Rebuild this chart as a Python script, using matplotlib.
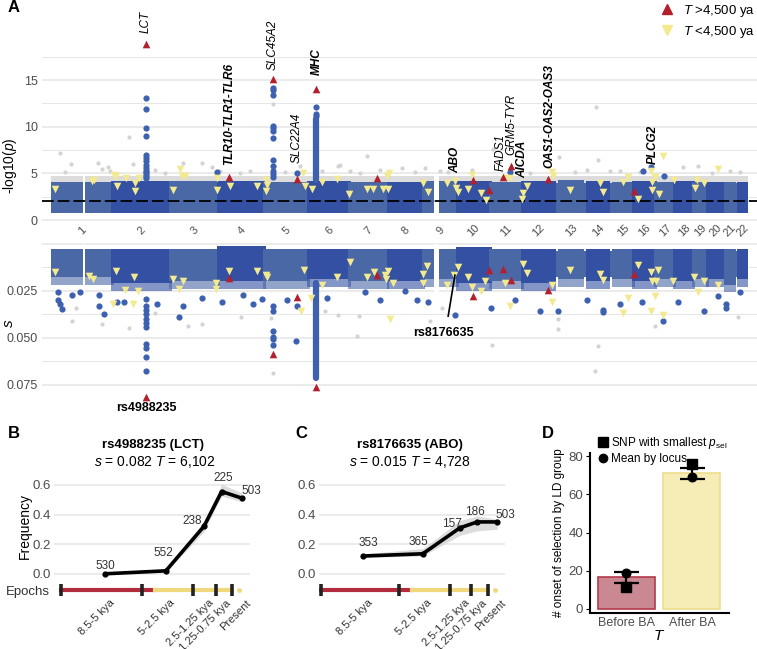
import numpy as np
import matplotlib
matplotlib.use("Agg")
import matplotlib.pyplot as plt
from matplotlib.lines import Line2D
from matplotlib.transforms import blended_transform_factory

plt.rcParams['font.family'] = ['Liberation Sans', 'DejaVu Sans']
plt.rcParams['mathtext.fontset'] = 'custom'
plt.rcParams['mathtext.rm'] = 'Liberation Sans'
plt.rcParams['mathtext.it'] = 'Liberation Sans:italic'
plt.rcParams['mathtext.bf'] = 'Liberation Sans:bold'

# ── data: genome layout (Mb) ─────────────────────────────────────────────────
CHROM_LEN = [249.25, 243.2, 198.0, 191.15, 180.9, 171.1, 159.1, 146.35, 141.2, 135.5, 135.0,
             133.85, 115.15, 107.35, 102.5, 90.35, 81.2, 78.0, 59.1, 63.0, 48.1, 51.3]
SEG_CHROM = [1, 1, 2, 3, 4, 5, 6, 7, 8, 9, 9, 10, 11, 12, 13, 14, 15, 16, 17, 18, 19, 20, 21, 22]
SEG_START = [0.8, 144, 0.1, 0.1, 0.1, 0.1, 0.2, 0.1, 0.2, 0.2, 70, 0.1, 0.2, 0.2, 19.0, 20.0,
             20.0, 0.1, 0.1, 0.1, 0.3, 0.1, 10.0, 16.0]
SEG_END = [121, 249, 243, 198, 191, 180.8, 171, 159, 146, 39, 141, 135.4, 134.9, 133.8, 115,
           107.2, 102.4, 90.2, 81.1, 78, 59, 62.9, 48, 51.2]
# regions without SNPs (chromosome, start, end)
GAP_CHROM = [1, 9]
GAP_START = [121, 39]
GAP_END = [144, 70]

# dense background of SNPs per chromosome
BLOB_TOP_P = [4.1, 4.2, 4.2, 4.2, 4.1, 4.2, 4.1, 4.1, 4.2, 4.2, 4.1, 4.2, 4.3, 4.2, 4.1,
              4.2, 4.1, 4.2, 4.1, 4.1, 4.1, 4.1]
BLOB_BOT_P = 0.75
BLOB_TOP_S = [0.003, 0.003, 0.003, 0.0015, 0.003, 0.003, 0.003, 0.003, 0.003, 0.002, 0.003,
              0.003, 0.003, 0.003, 0.003, 0.003, 0.003, 0.003, 0.003, 0.003, 0.003, 0.003]
BLOB_CORE_S = [0.017, 0.021, 0.020, 0.020, 0.020, 0.019, 0.020, 0.020, 0.019, 0.021, 0.020,
               0.021, 0.019, 0.020, 0.019, 0.020, 0.019, 0.020, 0.019, 0.019, 0.022, 0.019]
BLOB_EDGE_S = [0.022, 0.025, 0.024, 0.024, 0.024, 0.023, 0.024, 0.024, 0.023, 0.025, 0.024,
               0.025, 0.023, 0.024, 0.023, 0.024, 0.023, 0.024, 0.023, 0.023, 0.026, 0.023]

# selected SNPs, T > 4,500 ya (position Mb, -log10 p, s)
OLD_POS = [390, 732, 916, 1016, 1095, 1347, 1743, 1812, 1870, 1901, 2056, 2413]
OLD_P = [18.9, 4.6, 15.1, 4.4, 14.0, 4.5, 4.3, 3.2, 4.6, 5.8, 4.4, 3.1]
OLD_S = [0.0816, 0.0184, 0.0588, 0.0285, 0.0763, 0.0168, 0.0279, 0.0141, 0.0136, 0.0194,
         0.0247, 0.0162]

# selected SNPs, T < 4,500 ya
NEW_POS_P = [12, 166, 174, 257, 265, 269, 307, 344, 344, 361, 502, 531, 539, 551, 684, 684, 738,
             850, 887, 891, 887, 1041, 1049, 1078, 1119, 1182, 1231, 1306, 1331, 1372, 1393,
             1397, 1389, 1538, 1559, 1638, 1671, 1675, 1683, 1725, 1741, 1779, 1799, 1878, 1899,
             1969, 1953, 1949, 2073, 2077, 2148, 2272, 2284, 2367, 2388, 2430, 2483, 2488, 2500,
             2488, 2517, 2533, 2579, 2674, 2666, 2703, 2761]
NEW_P = [3.3, 4.2, 4.3, 4.8, 4.7, 3.6, 4.5, 4.0, 3.1, 4.5, 3.2, 5.5, 4.7, 4.7, 4.5, 3.2, 3.6,
         3.6, 4.3, 3.8, 3.1, 5.0, 3.6, 3.3, 4.1, 4.4, 2.8, 3.3, 3.3, 3.3, 3.3, 5.0, 4.7, 4.0,
         3.0, 4.0, 4.2, 3.4, 3.0, 3.3, 4.8, 2.9, 2.1, 4.5, 4.5, 3.6, 2.9, 2.3, 5.1, 4.7, 3.2,
         4.0, 3.0, 4.1, 4.6, 2.3, 5.3, 4.1, 4.6, 3.2, 2.8, 6.9, 4.3, 4.3, 3.4, 4.0, 5.5]
NEW_POS_S = [12, 153, 170, 265, 340, 357, 303, 253, 336, 502, 543, 527, 680, 680, 734, 850, 887,
             891, 1045, 1032, 1119, 1182, 1236, 1074, 1306, 1335, 1381, 1393, 1385, 1414, 1401,
             1555, 1538, 1538, 1683, 1667, 1638, 1725, 1741, 1779, 1795, 1878, 1899, 1953, 1969,
             2073, 2073, 2148, 2272, 2284, 2430, 2483, 2512, 2488, 2504, 2575, 2662, 2703, 2761,
             2388, 2367, 2483, 2533, 2500, 2678]
NEW_S = [0.015, 0.017, 0.0187, 0.0145, 0.018, 0.025, 0.0245, 0.032, 0.032, 0.0187, 0.020,
         0.024, 0.021, 0.024, 0.0145, 0.0145, 0.0166, 0.018, 0.014, 0.036, 0.022, 0.018, 0.010,
         0.029, 0.018, 0.015, 0.0165, 0.0145, 0.019, 0.021, 0.040, 0.012, 0.016, 0.021, 0.0124,
         0.0166, 0.022, 0.0176, 0.023, 0.025, 0.0197, 0.021, 0.033, 0.0108, 0.0155, 0.022,
         0.031, 0.014, 0.016, 0.0195, 0.0113, 0.015, 0.014, 0.0197, 0.0197, 0.020, 0.018,
         0.0197, 0.022, 0.029, 0.037, 0.036, 0.038, 0.028, 0.0255]

# other SNPs above the threshold (grey) and significant loci (blue)
GREY_POS_P = [33, 79, 54, 191, 207, 232, 240, 319, 336, 386, 427, 469, 543, 622, 663, 697, 779,
              821, 916, 966, 1028, 1186, 1194, 1236, 1277, 1306, 1360, 1451, 1505, 1546, 1609,
              1642, 1741, 1828, 1853, 1982, 2102, 2168, 2218, 2255, 2264, 2313, 2438, 2616, 2678,
              2736, 2811, 2852, 1120, 2355]
GREY_P = [7.2, 6.0, 5.1, 6.1, 5.5, 5.7, 5.2, 8.9, 6.0, 5.7, 5.4, 5.0, 6.1, 6.1, 5.7, 5.3, 5.0,
          5.2, 12.4, 5.1, 5.8, 5.8, 5.9, 5.2, 5.0, 6.9, 5.4, 5.6, 5.1, 5.6, 5.3, 5.1, 5.4, 7.6,
          6.2, 5.0, 6.7, 5.1, 5.4, 12.1, 6.4, 5.2, 5.1, 5.7, 5.8, 5.0, 5.2, 5.1, 5.3, 5.2]
GREY_POS_S = [83, 100, 207, 319, 427, 564, 622, 784, 908, 916, 1132, 1186, 1265, 1273, 1567,
              1824, 2098, 2264, 2251, 2500, 2844, 1617, 2098]
GREY_S = [0.041, 0.0345, 0.043, 0.045, 0.037, 0.044, 0.043, 0.039, 0.0397, 0.069, 0.036, 0.038,
          0.049, 0.0387, 0.041, 0.054, 0.0455, 0.0545, 0.0676, 0.044, 0.039, 0.0345, 0.040]

BLUE_POS_P = [390] * 14 + [916] * 12 + [1095] * 3 + [684, 1016, 1899, 2483, 2537, 2450]
BLUE_P = [13.1, 11.9, 9.9, 9.0, 7.0, 6.6, 6.3, 5.9, 5.6, 5.3, 5.1, 4.9, 4.7, 4.5,
          14.1, 13.9, 13.4, 10.1, 9.9, 9.5, 8.8, 6.4, 5.8, 5.2, 4.9, 4.6,
          12.1, 11.4, 11.1,
          5.1, 5.0, 5.1, 5.7, 4.7, 5.2]
BLUE_POS_S = [390] * 11 + [916] * 6 + [
    25, 25, 33, 41, 83, 116, 195, 195, 216, 269, 299, 435, 527, 543, 622, 705, 792, 833, 871,
    974, 1012, 1016, 1140, 1298, 1360, 1464, 1513, 1559, 1671, 1820, 1920, 2023, 2098, 2218,
    2284, 2284, 2355, 2446, 2533, 2595, 2703, 2761, 2794, 2794, 2852]
BLUE_S = [0.0295, 0.033, 0.0355, 0.0376, 0.040, 0.042, 0.0445, 0.0534, 0.0558, 0.0603, 0.0676,
          0.0334, 0.036, 0.0466, 0.0497, 0.051, 0.054,
          0.0255, 0.030, 0.032, 0.035, 0.0276, 0.0256, 0.0276, 0.033, 0.0376, 0.031, 0.031,
          0.032, 0.039, 0.033, 0.029, 0.031, 0.0276, 0.032, 0.0297, 0.030, 0.052, 0.033,
          0.0287, 0.026, 0.030, 0.025, 0.030, 0.031, 0.038, 0.0345, 0.030, 0.036, 0.036, 0.030,
          0.0355, 0.0366, 0.0323, 0.031, 0.0413, 0.031, 0.036, 0.028, 0.032, 0.0345, 0.0255]
# MHC: continuous column of significant SNPs (min, max)
MHC_POS = 1095
MHC_P_RANGE = (4.3, 10.8)
MHC_S_RANGE = (0.021, 0.0715)

P_THRESHOLD = 2.0

GENES = ['LCT', 'TLR10-TLR1-TLR6', 'SLC45A2', 'SLC22A4', 'MHC', 'ABO', 'FADS1', 'GRM5-TYR',
         'AICDA', 'OAS1-OAS2-OAS3', 'PLCG2']
GENE_POS = [388, 735, 916, 1015, 1097, 1671, 1860, 1906, 1947, 2062, 2492]
GENE_Y = [20.0, 5.9, 16.1, 6.1, 15.5, 5.0, 5.3, 7.0, 4.5, 5.6, 6.0]
GENE_BOLD = [False, True, False, False, True, True, False, False, True, True, True]

# ── data: panels B, C ────────────────────────────────────────────────────────
EPOCH_MID = [6750, 3750, 1875, 1000, 0]
EPOCH_LABELS = ['8.5-5 kya', '5-2.5 kya', '2.5-1.25 kya', '1.25-0.75 kya', 'Present']
EPOCH_EDGES = [8900, 4950, 2400, 1300, 480]
BA_SPLIT = 4300
PRESENT_DOT = 130

LCT_FREQ = [0.0, 0.02, 0.32, 0.555, 0.51]
LCT_LO = [0.0, 0.01, 0.285, 0.525, 0.485]
LCT_HI = [0.006, 0.032, 0.355, 0.605, 0.545]
LCT_N = [530, 552, 238, 225, 503]

ABO_FREQ = [0.12, 0.135, 0.31, 0.35, 0.35]
ABO_LO = [0.11, 0.12, 0.26, 0.29, 0.30]
ABO_HI = [0.135, 0.17, 0.36, 0.39, 0.37]
ABO_N = [353, 365, 157, 186, 503]

# ── data: panel D ────────────────────────────────────────────────────────────
GROUPS = ['Before BA', 'After BA']
BAR_MEAN = [16.5, 71.0]
BAR_ERR = [2.9, 3.1]
SNP_SMALLEST = [11.5, 76.0]
LOCUS_MEAN = [18.8, 69.1]

# ── style ────────────────────────────────────────────────────────────────────
W, H = 757, 649
LIGHT = '#4a67a6'
DARK = '#3350a2'
DOT_BLUE = '#3d60b0'
GREY = '#d3d3d3'
RED = '#b3202d'
YEL = '#f3e98f'
TXT = '#4d4d4d'
GRID = '#e6e6e6'

fig = plt.figure(figsize=(W / 100, H / 100), dpi=100)


def add_ax(l, t, r, b):
    return fig.add_axes([l / W, 1 - b / H, (r - l) / W, (b - t) / H])


def ftext(x, y, s, **kw):
    fig.text(x / W, 1 - y / H, s, **kw)


cum = np.concatenate([[0], np.cumsum(CHROM_LEN)])
PAD = 6

# ── panel A ──────────────────────────────────────────────────────────────────
axp = add_ax(42, 10, 757, 222)
axs = add_ax(42, 240, 757, 415)
for ax in (axp, axs):
    ax.set_xlim(-41.5, 2922)
    for sp in ax.spines.values():
        sp.set_visible(False)
    ax.set_xticks([])
    ax.tick_params(axis='y', length=0, labelsize=9, labelcolor=TXT, pad=3)

axp.set_ylim(-0.21, 22.5)
for v in np.arange(0, 18, 2.5):
    axp.axhline(v, color=GRID, lw=1.1 if v % 5 == 0 else 0.7, zorder=0)
axp.set_yticks([0, 5, 10, 15])

axs.set_ylim(0.0912, -0.0019)
for v in np.arange(0, 0.08, 0.0125):
    axs.axhline(v, color=GRID, lw=1.1 if round(v / 0.0125) % 2 == 0 else 0.7, zorder=0)
axs.set_yticks([0.025, 0.05, 0.075])
axs.set_yticklabels(['0.025', '0.050', '0.075'])

# dense SNP background: one continuous underlay, chromosome blocks on top
seg_x, seg_w, seg_col, seg_i = [], [], [], []
seg_mid = {}
for c, s0, s1 in zip(SEG_CHROM, SEG_START, SEG_END):
    g0 = cum[c - 1] + s0 - PAD
    g1 = cum[c - 1] + s1 + PAD
    seg_x.append(g0)
    seg_w.append(g1 - g0)
    seg_col.append(LIGHT if c % 2 else DARK)
    seg_i.append(c - 1)
    lo, hi = seg_mid.get(c, (cum[c - 1] + s0, cum[c - 1] + s1))
    seg_mid[c] = (min(lo, cum[c - 1] + s0), max(hi, cum[c - 1] + s1))

g_start = seg_x[0]
g_width = seg_x[-1] + seg_w[-1] - g_start
gap_x = [cum[c - 1] + a + PAD for c, a in zip(GAP_CHROM, GAP_START)]
gap_w = [b - a - 2 * PAD for a, b in zip(GAP_START, GAP_END)]

top_p = [BLOB_TOP_P[i] for i in seg_i]
top_s = [BLOB_TOP_S[i] for i in seg_i]
core_s = [BLOB_CORE_S[i] for i in seg_i]
edge_s = [BLOB_EDGE_S[i] for i in seg_i]
bkw = dict(width=seg_w, align='edge', linewidth=0)

# top panel
axp.bar(g_start, 0.75, width=g_width, bottom=3.95, align='edge', color='#dcdcdc', lw=0,
        zorder=1)
axp.bar(g_start, 3.25, width=g_width, bottom=BLOB_BOT_P, align='edge', color=LIGHT, lw=0,
        zorder=1.9)
axp.bar(seg_x, [t - BLOB_BOT_P for t in top_p], bottom=BLOB_BOT_P, color=seg_col,
        zorder=2, **bkw)
axp.bar(gap_x, 4.6, width=gap_w, bottom=0.2, align='edge', color='white', lw=0, zorder=2.1)
# bottom panel
axs.bar(g_start, 0.014, width=g_width, bottom=0.004, align='edge', color=LIGHT, lw=0,
        zorder=1.9)
axs.bar(seg_x, [b - t for t, b in zip(top_s, core_s)], bottom=top_s, color=seg_col,
        zorder=2, **bkw)
axs.bar(seg_x, [e - b for b, e in zip(core_s, edge_s)], bottom=core_s, color=seg_col,
        alpha=0.6, zorder=1.8, **bkw)
axs.bar(gap_x, 0.027, width=gap_w, bottom=0.0, align='edge', color='white', lw=0, zorder=2.1)

axp.axhline(P_THRESHOLD, color='black', lw=1.3, ls=(0, (6.5, 2.2)), zorder=3)

# points
axp.scatter(GREY_POS_P, GREY_P, s=9, color=GREY, lw=0, zorder=1.5)
axs.scatter(GREY_POS_S, GREY_S, s=9, color=GREY, lw=0, zorder=1.5)
axp.scatter(BLUE_POS_P, BLUE_P, s=20, color=DOT_BLUE, lw=0, zorder=3)
axs.scatter(BLUE_POS_S, BLUE_S, s=20, color=DOT_BLUE, lw=0, zorder=3)
axp.plot([MHC_POS, MHC_POS], MHC_P_RANGE, color=DOT_BLUE, lw=4.5, solid_capstyle='round',
         zorder=3)
axs.plot([MHC_POS, MHC_POS], MHC_S_RANGE, color=DOT_BLUE, lw=4.5, solid_capstyle='round',
         zorder=3)
axp.scatter(NEW_POS_P, NEW_P, marker='v', s=30, color=YEL, lw=0, zorder=4)
axs.scatter(NEW_POS_S, NEW_S, marker='v', s=30, color=YEL, lw=0, zorder=4)
axp.scatter(OLD_POS, OLD_P, marker='^', s=30, color=RED, lw=0, zorder=5)
axs.scatter(OLD_POS, OLD_S, marker='^', s=30, color=RED, lw=0, zorder=5)

# gene labels
for g, x, y, b in zip(GENES, GENE_POS, GENE_Y, GENE_BOLD):
    axp.text(x, y, g, rotation=90, ha='center', va='bottom', fontsize=8.5,
             fontstyle='italic', fontweight='bold' if b else 'normal', zorder=6)

# chromosome labels
tr = blended_transform_factory(axp.transData, axp.transAxes)
for c in range(1, 23):
    lo, hi = seg_mid[c]
    axp.text((lo + hi) / 2, -0.04, str(c), transform=tr, rotation=45, ha='center',
             va='center', fontsize=8, color=TXT)

# annotations on s panel
axs.text(OLD_POS[0], 0.0875, 'rs4988235', ha='center', va='center', fontsize=9,
         fontweight='bold')
axs.plot([1670, 1642], [0.0168, 0.0386], color='black', lw=1.2, zorder=6)
axs.text(1624, 0.0478, 'rs8176635', ha='center', va='center', fontsize=9, fontweight='bold')

handles = [Line2D([], [], marker='^', color=RED, ls='none', ms=7),
           Line2D([], [], marker='v', color=YEL, ls='none', ms=7)]
fig.legend(handles, ['$T$ >4,500 ya', '$T$ <4,500 ya'], loc='upper right',
           bbox_to_anchor=(755 / W, 1 - 3 / H), frameon=False, fontsize=9.5,
           handletextpad=0.6, labelspacing=0.35, borderpad=0, borderaxespad=0,
           handlelength=1.2)

ftext(10, 166, '-log10($p$)', rotation=90, ha='center', va='center', fontsize=10)
ftext(9, 323, '$s$', rotation=90, ha='center', va='center', fontsize=11)


# ── panels B, C ──────────────────────────────────────────────────────────────
def freq_panel(ax, freq, lo, hi, n, offs, xlim):
    ax.set_xlim(*xlim)
    ax.set_ylim(-0.17, 0.68)
    for sp in ax.spines.values():
        sp.set_visible(False)
    for v in [0, 0.2, 0.4, 0.6]:
        ax.axhline(v, color=GRID, lw=1.1, zorder=0)
    ax.fill_between(EPOCH_MID, lo, hi, color='#d4d4d4', alpha=0.8, lw=0, zorder=1)
    ax.plot(EPOCH_MID, freq, color='black', lw=2.6, solid_capstyle='round',
            solid_joinstyle='round', zorder=3)
    ax.scatter(EPOCH_MID, freq, s=12, color='black', zorder=3)
    for x, y, t, (dx, dy) in zip(EPOCH_MID, freq, n, offs):
        ax.annotate(str(t), (x, y), xytext=(dx, dy), textcoords='offset pixels',
                    ha='center', va='center', fontsize=8.5, color='#333333')
    ey = -0.108
    ax.plot([EPOCH_EDGES[0], BA_SPLIT], [ey, ey], color='#b22c3e', lw=3, zorder=2)
    ax.plot([BA_SPLIT, EPOCH_EDGES[-1]], [ey, ey], color='#f0d97c', lw=3, zorder=2)
    ax.scatter([PRESENT_DOT], [ey], s=6, color='#f0d97c', zorder=2)
    ax.scatter(EPOCH_EDGES, [ey] * len(EPOCH_EDGES), marker='|', s=75, lw=2.6,
               color='#222222', zorder=3)
    for x, lab in zip(EPOCH_MID, EPOCH_LABELS):
        ax.annotate(lab, (x, ey), xytext=(4, -8), textcoords='offset pixels', rotation=45,
                    ha='right', va='top', rotation_mode='anchor', fontsize=8.0,
                    color='#333333', annotation_clip=False)
    ax.set_xticks([])
    ax.set_yticks([0, 0.2, 0.4, 0.6])
    ax.set_yticklabels(['0.0', '0.2', '0.4', '0.6'])
    ax.tick_params(axis='y', length=0, labelsize=9.5, labelcolor=TXT, pad=2)


axb = add_ax(54, 473, 250, 599)
freq_panel(axb, LCT_FREQ, LCT_LO, LCT_HI, LCT_N,
           [(0, 8), (-3, 18), (-12, 5), (2, 14), (9, 7)], (9260, -394))
axc = add_ax(319, 473, 505, 599)
freq_panel(axc, ABO_FREQ, ABO_LO, ABO_HI, ABO_N,
           [(5, 13), (-4, 12), (-8, 4), (-2, 10), (8, 7)], (8990, -400))

ftext(153, 445, 'rs4988235 (LCT)', ha='center', va='center', fontsize=9.5, fontweight='bold')
ftext(155, 462, '$s$ = 0.082 $T$ = 6,102', ha='center', va='center', fontsize=10)
ftext(410, 445, 'rs8176635 (ABO)', ha='center', va='center', fontsize=9.5, fontweight='bold')
ftext(410, 462, '$s$ = 0.015 $T$ = 4,728', ha='center', va='center', fontsize=10)
ftext(25, 526, 'Frequency', rotation=90, ha='center', va='center', fontsize=10)
ftext(50, 592, 'Epochs', ha='right', va='center', fontsize=9.5, color='#333333')

# ── panel D ──────────────────────────────────────────────────────────────────
axd = add_ax(590, 453, 729, 613)
xs = np.arange(1, len(GROUPS) + 1)
axd.bar(xs, BAR_MEAN, width=0.87, color=['#c98892', '#f5ecb6'],
        edgecolor=['#b5394a', '#eedd8c'], lw=1.2, zorder=1)
axd.errorbar(xs, BAR_MEAN, yerr=BAR_ERR, fmt='none', ecolor='black', elinewidth=1.6,
             capsize=9, capthick=1.6, zorder=2)
axd.scatter(xs, SNP_SMALLEST, marker='s', s=45, color='black', zorder=3)
axd.scatter(xs, LOCUS_MEAN, marker='o', s=38, color='black', zorder=3)
axd.set_xlim(0.443, 2.565)
axd.set_ylim(-2.1, 81.7)
for side in ('top', 'right'):
    axd.spines[side].set_visible(False)
for side in ('left', 'bottom'):
    axd.spines[side].set_linewidth(1.5)
axd.set_yticks([0, 20, 40, 60, 80])
axd.set_xticks(xs)
axd.set_xticklabels(GROUPS)
axd.tick_params(axis='y', length=3, labelsize=9.5, labelcolor=TXT, pad=2)
axd.tick_params(axis='x', length=0, labelsize=9, labelcolor=TXT, pad=3)
dh = [Line2D([], [], marker='s', color='black', ls='none', ms=6.5),
      Line2D([], [], marker='o', color='black', ls='none', ms=6)]
fig.legend(dh, ['SNP with smallest $p_{\\mathrm{sel}}$', 'Mean by locus'], loc='upper left',
           bbox_to_anchor=(597 / W, 1 - 435 / H), frameon=False, fontsize=8.5,
           handletextpad=0.2, labelspacing=0.15, borderpad=0, borderaxespad=0,
           handlelength=1.0)
ftext(559, 533, '# onset of selection by LD group', rotation=90, ha='center', va='center',
      fontsize=8.5)
ftext(659, 636, '$T$', ha='center', va='center', fontsize=11)

# panel letters
for lab, x, y in [('A', 8, 8), ('B', 8, 434), ('C', 295, 434), ('D', 542, 434)]:
    ftext(x, y, lab, ha='left', va='center', fontsize=12, fontweight='bold')

fig.savefig('out.png', dpi=100)
